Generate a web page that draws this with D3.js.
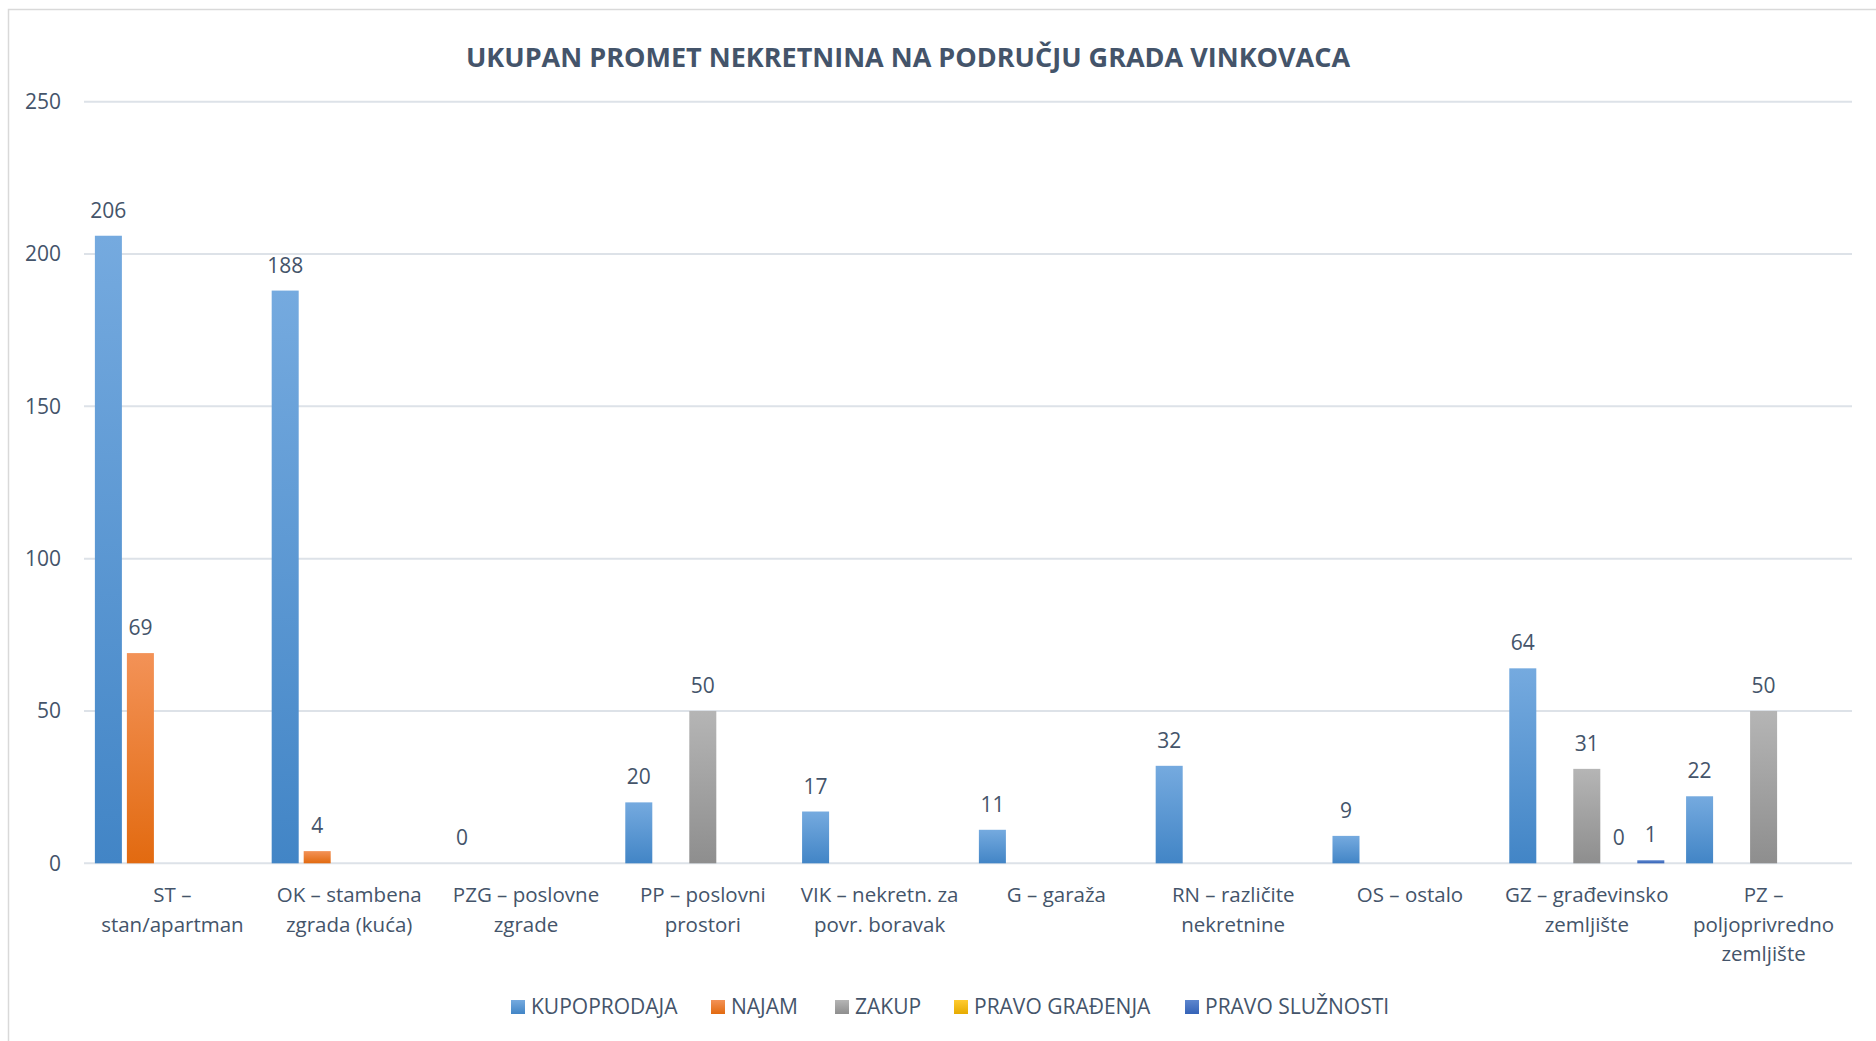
<!DOCTYPE html>
<html>
<head>
<meta charset="utf-8">
<title>Ukupan promet nekretnina</title>
<script src="https://d3js.org/d3.v7.min.js"></script>
<style>
  body { margin: 0; background: #fff; }
  svg { display: block; font-family: "Open Sans", sans-serif; }
</style>
</head>
<body>
<div id="chart"></div>
<script>
// Data
const categories = [
  "ST –\nstan/apartman",
  "OK – stambena\nzgrada (kuća)",
  "PZG – poslovne\nzgrade",
  "PP – poslovni\nprostori",
  "VIK – nekretn. za\npovr. boravak",
  "G – garaža",
  "RN – različite\nnekretnine",
  "OS – ostalo",
  "GZ – građevinsko\nzemljište",
  "PZ –\npoljoprivredno\nzemljište"
];
const seriesNames = ["KUPOPRODAJA", "NAJAM", "ZAKUP", "PRAVO GRAĐENJA", "PRAVO SLUŽNOSTI"];
const kupoprodaja    = [206, 188, 0, 20, 17, 11, 32, 9, 64, 22];
const najam          = [69, 4, null, null, null, null, null, null, null, null];
const zakup          = [null, null, null, 50, null, null, null, null, 31, 50];
const pravoGradjenja = [null, null, null, null, null, null, null, null, 0, null];
const pravoSluznosti = [null, null, null, null, null, null, null, null, 1, null];
const yTicks = [0, 50, 100, 150, 200, 250];

const seriesValues = [kupoprodaja, najam, zakup, pravoGradjenja, pravoSluznosti];
// gradient stops (top, bottom) per series
const seriesColors = [
  ["#75aadf", "#4285c6"],
  ["#f39257", "#e26a10"],
  ["#b5b5b5", "#8e8e8e"],
  ["#ffcb30", "#e6ab00"],
  ["#5d86ce", "#3563b7"]
];

const W = 1876, H = 1041;
const plot = { left: 84, right: 1852, top: 101.7, bottom: 863.3 };
const textColor = "#44546a";

const svg = d3.select("#chart").append("svg")
  .attr("width", W)
  .attr("height", H);

// gradients
const defs = svg.append("defs");
seriesColors.forEach((c, i) => {
  const g = defs.append("linearGradient")
    .attr("id", "grad" + i)
    .attr("x1", 0).attr("y1", 0).attr("x2", 0).attr("y2", 1);
  g.append("stop").attr("offset", "0%").attr("stop-color", c[0]);
  g.append("stop").attr("offset", "100%").attr("stop-color", c[1]);
});

// chart border
svg.append("rect")
  .attr("x", 8.5).attr("y", 9.5)
  .attr("width", W).attr("height", H)
  .attr("fill", "none")
  .attr("stroke", "#d9d9d9")
  .attr("stroke-width", 1.5);

// Scales
const x0 = d3.scaleBand()
  .domain(d3.range(categories.length))
  .range([plot.left, plot.right]);

const x1 = d3.scaleBand()
  .domain(d3.range(seriesNames.length))
  .range([0, x0.bandwidth()])
  .paddingInner(0.156)
  .paddingOuter(0.34);

const y = d3.scaleLinear()
  .domain([0, 250])
  .range([plot.bottom, plot.top]);

// Gridlines
svg.append("g")
  .selectAll("line")
  .data(yTicks)
  .join("line")
  .attr("x1", plot.left)
  .attr("x2", plot.right)
  .attr("y1", d => y(d))
  .attr("y2", d => y(d))
  .attr("stroke", "#dde2e8")
  .attr("stroke-width", 2);

// Y axis labels
svg.append("g")
  .selectAll("text")
  .data(yTicks)
  .join("text")
  .attr("x", 61)
  .attr("y", d => y(d))
  .attr("dy", "0.35em")
  .attr("text-anchor", "end")
  .attr("font-size", 21)
  .attr("fill", textColor)
  .text(d => d);

// Bars
const barData = [];
seriesValues.forEach((vals, s) => {
  vals.forEach((v, c) => {
    if (v !== null) barData.push({ s, c, v });
  });
});

svg.append("g")
  .selectAll("rect")
  .data(barData.filter(d => d.v > 0))
  .join("rect")
  .attr("x", d => x0(d.c) + x1(d.s))
  .attr("y", d => y(d.v))
  .attr("width", x1.bandwidth())
  .attr("height", d => y(0) - y(d.v))
  .attr("fill", d => `url(#grad${d.s})`);

// Data labels
svg.append("g")
  .selectAll("text")
  .data(barData)
  .join("text")
  .attr("x", d => x0(d.c) + x1(d.s) + x1.bandwidth() / 2)
  .attr("y", d => y(d.v) - 18)
  .attr("text-anchor", "middle")
  .attr("font-size", 21)
  .attr("fill", textColor)
  .text(d => d.v);

// Category labels
const catLabels = svg.append("g")
  .selectAll("text")
  .data(categories)
  .join("text")
  .attr("text-anchor", "middle")
  .attr("font-size", 20.5)
  .attr("fill", textColor);

catLabels.each(function(d, i) {
  const t = d3.select(this);
  d.split("\n").forEach((line, k) => {
    t.append("tspan")
      .attr("x", x0(i) + x0.bandwidth() / 2)
      .attr("y", 902 + k * 29.5)
      .text(line);
  });
});

// Title
svg.append("text")
  .attr("x", 908)
  .attr("y", 67)
  .attr("text-anchor", "middle")
  .attr("font-size", 27)
  .attr("font-weight", "bold")
  .attr("fill", textColor)
  .text("UKUPAN PROMET NEKRETNINA NA PODRUČJU GRADA VINKOVACA");

// Legend
const legendX = [511, 711, 835, 954, 1185];
const legend = svg.append("g")
  .selectAll("g")
  .data(seriesNames)
  .join("g")
  .attr("transform", (d, i) => `translate(${legendX[i]},1000)`);

legend.append("rect")
  .attr("width", 14)
  .attr("height", 14)
  .attr("fill", (d, i) => `url(#grad${i})`);

legend.append("text")
  .attr("x", 20)
  .attr("y", 7)
  .attr("dy", "0.35em")
  .attr("font-size", 21)
  .attr("fill", textColor)
  .text(d => d);
</script>
</body>
</html>
